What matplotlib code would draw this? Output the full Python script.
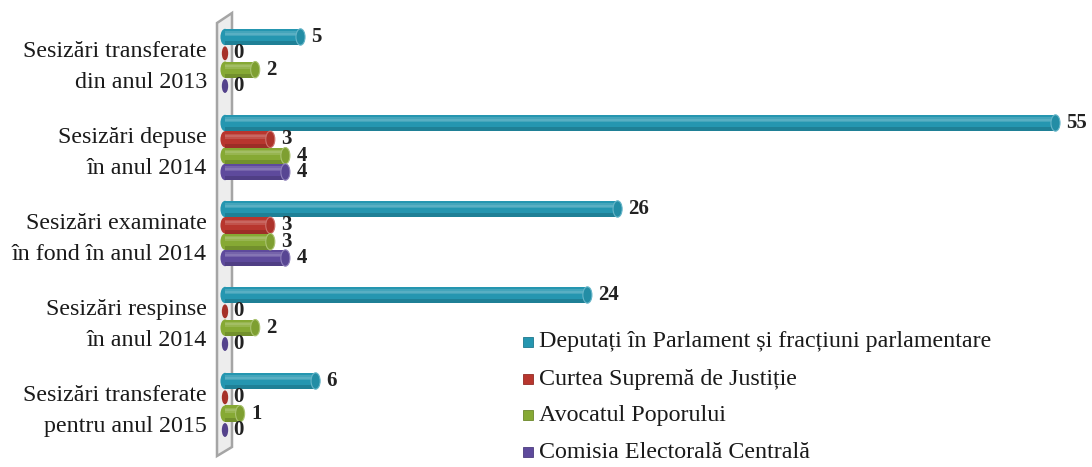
import matplotlib
matplotlib.use("Agg")
import matplotlib.pyplot as plt
import numpy as np
from matplotlib.patches import Ellipse, Polygon, Rectangle
from matplotlib.colors import to_rgb

categories = [
    "Sesizări transferate\ndin anul 2013",
    "Sesizări depuse\nîn anul 2014",
    "Sesizări examinate\nîn fond în anul 2014",
    "Sesizări respinse\nîn anul 2014",
    "Sesizări transferate\npentru anul 2015",
]
series_names = [
    "Deputați în Parlament și fracțiuni parlamentare",
    "Curtea Supremă de Justiție",
    "Avocatul Poporului",
    "Comisia Electorală Centrală",
]
deputati = [5, 55, 26, 24, 6]
curtea = [0, 3, 3, 0, 0]
avocatul = [2, 4, 3, 2, 1]
comisia = [0, 4, 4, 0, 0]
series_values = [deputati, curtea, avocatul, comisia]
colors = ["#2596b0", "#b8362e", "#86a934", "#5e4a9c"]

plt.rcParams["font.family"] = ["Liberation Serif", "DejaVu Serif"]

W, H, DPI = 1092, 467, 100
fig = plt.figure(figsize=(W / DPI, H / DPI), dpi=DPI)

x0_px = 225.0
ppu = 15.1
xmin, xmax = -0.7, 57.0
left_px = x0_px + xmin * ppu
right_px = x0_px + xmax * ppu
ax = fig.add_axes([left_px / W, 0, (right_px - left_px) / W, 1])
gap_px = 86.0
c0_px = 61.5
ax.set_xlim(xmin, xmax)
ax.set_ylim((H - c0_px) / gap_px, -c0_px / gap_px)
ax.axis("off")


def px2fig(x, y):
    return (x / W, 1 - y / H)


# 3D-like wall
wall = Polygon([px2fig(217, 23), px2fig(232, 13), px2fig(232, 447), px2fig(217, 456)],
               closed=True, transform=fig.transFigure, facecolor="#ededed",
               edgecolor="#a5a5a5", linewidth=1.8, zorder=0)
fig.add_artist(wall)


def mix(c, other, a):
    c = np.array(to_rgb(c)); o = np.array(other)
    return tuple(c * (1 - a) + o * a)


offsets = np.array([-1.5, -0.5, 0.5, 1.5]) * 0.19
bh = 0.19
cap_w = 0.6
y_idx = np.arange(len(categories))

for s, (vals, col) in enumerate(zip(series_values, colors)):
    ys = y_idx + offsets[s]
    for yc, v in zip(ys, vals):
        if v > 0:
            ax.add_patch(Ellipse((0, yc), cap_w, bh, facecolor=col,
                                 edgecolor="none", zorder=2))
            # body
            ax.barh(yc, v, height=bh, left=0, color=col, linewidth=0, zorder=3)
            # soft highlight in upper part
            ax.barh(yc - bh * 0.2, v, height=bh * 0.3, left=0,
                    color=mix(col, (1, 1, 1), 0.14), linewidth=0, zorder=3.1)
            ax.barh(yc - bh * 0.2, v, height=bh * 0.12, left=0,
                    color=mix(col, (1, 1, 1), 0.24), linewidth=0, zorder=3.2)
            # darker lower band
            ax.barh(yc + bh * 0.38, v, height=bh * 0.24, left=0,
                    color=mix(col, (0, 0, 0), 0.15), linewidth=0, zorder=3.1)
            ax.add_patch(Ellipse((v, yc), cap_w, bh, facecolor=mix(col, (0, 0, 0), 0.06),
                                 edgecolor=mix(col, (1, 1, 1), 0.3), linewidth=0.8, zorder=4))
        else:
            ax.add_patch(Ellipse((0, yc), 0.42, bh * 0.85, facecolor=mix(col, (0, 0, 0), 0.1),
                                 edgecolor="none", zorder=4))
        ax.annotate(f"{v}", (v, yc), xytext=(11 if v > 0 else 8, 0),
                    textcoords="offset pixels", ha="left", va="center",
                    fontsize=15, fontweight="bold", color="#222222", zorder=5,
                    annotation_clip=False)

for i, cat in enumerate(categories):
    ax.text(-1.2, i + 0.065, cat, ha="right", va="center", fontsize=17.3,
            linespacing=1.6, color="#1a1a1a", transform=ax.transData)

# legend
leg_y = [342, 379, 415, 452]
for name, col, ly in zip(series_names, colors, leg_y):
    sq = 10
    fig.add_artist(Rectangle((523 / W, 1 - (ly + sq / 2) / H), sq / W, sq / H,
                             transform=fig.transFigure, facecolor=col,
                             edgecolor=mix(col, (0, 0, 0), 0.2), linewidth=0.6))
    fig.text(539 / W, 1 - ly / H, name, ha="left", va="center", fontsize=17.3,
             color="#1a1a1a")

fig.savefig("out.png", dpi=DPI)
